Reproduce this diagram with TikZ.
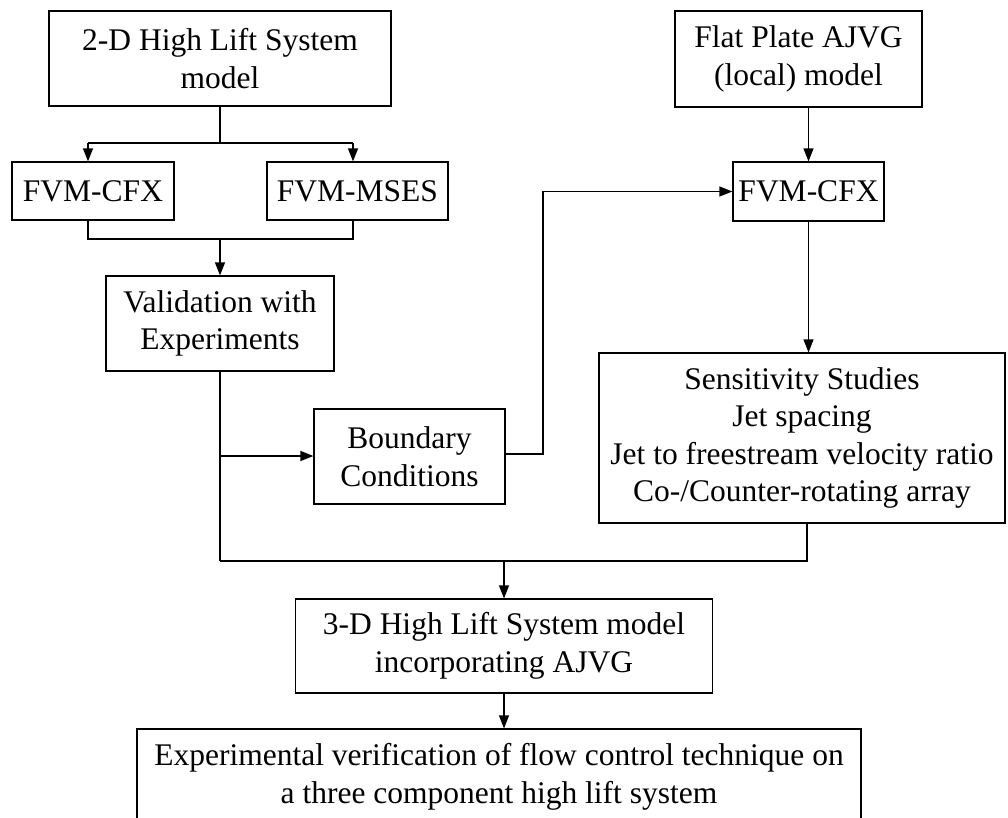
\documentclass[tikz,border=0pt]{standalone}
\usepackage{fontspec}
\setmainfont{Liberation Serif}
\usetikzlibrary{arrows.meta}
\begin{document}
\begin{tikzpicture}[x=1pt,y=-1pt,
  box/.style={draw, line width=1.2pt, inner sep=0pt, align=center,
    font=\fontsize{31.5}{37.5}\selectfont},
  link/.style={line width=1.2pt},
  arr/.style={link, -{Triangle[length=13pt,width=10pt]}}]
\useasboundingbox (0,0) rectangle (1008,817);
\clip (0,0) rectangle (1008,817);

% boxes
\node[box, minimum width=342pt, minimum height=95pt] (hl2d) at (220,58.5) {2-D High Lift System\\model};
\node[box, minimum width=247pt, minimum height=96pt] (flat) at (798.5,59) {Flat Plate AJVG\\(local) model};
\node[box, minimum width=162pt, minimum height=58pt] (cfxA) at (93,191) {FVM-CFX};
\node[box, minimum width=181pt, minimum height=58pt] (mses) at (357.5,191) {FVM-MSES};
\node[box, minimum width=228pt, minimum height=95pt] (valid) at (220,323.5) {Validation with\\Experiments};
\node[box, minimum width=151pt, minimum height=59pt] (cfxB) at (808.5,191.5) {FVM-CFX};
\node[box, minimum width=191pt, minimum height=95pt] (bc) at (409.5,456.5) {Boundary\\Conditions};
\node[box, minimum width=406pt, minimum height=170pt] (sens) at (802,438) {Sensitivity Studies\\Jet spacing\\Jet to freestream velocity ratio\\Co-/Counter-rotating array};
\node[box, minimum width=417pt, minimum height=94pt] (dd3) at (504,646) {3-D High Lift System model\\incorporating AJVG};
\node[box, minimum width=724pt, minimum height=96pt] (expv) at (499,777) {Experimental verification of flow control technique on\\a three component high lift system};

% routing points
\coordinate (fork) at (220,143);
\coordinate (forkL) at (88,143);
\coordinate (forkR) at (353,143);
\coordinate (join) at (220,239);
\coordinate (joinL) at (88,239);
\coordinate (joinR) at (353,239);
\coordinate (tap) at (220,456);
\coordinate (bcUp) at (543,454);
\coordinate (busL) at (220,561);
\coordinate (busR) at (807,561);
\coordinate (busM) at (504,561);

% 2-D model split to the two solvers
\draw[link] (hl2d.south) -- (fork);
\draw[link] (forkL) -- (forkR);
\draw[arr] (forkL) -- (forkL |- cfxA.north);
\draw[arr] (forkR) -- (forkR |- mses.north);

% solvers merge into validation
\draw[link] (joinL |- cfxA.south) -- (joinL) -- (joinR) -- (joinR |- mses.south);
\draw[arr] (join) -- (valid.north);

% local model chain
\draw[arr] (flat.south -| cfxB.north) -- (cfxB.north);
\draw[arr] (cfxB.south) -- (cfxB.south |- sens.north);

% validation to boundary conditions and the bus
\draw[link] (valid.south) -- (busL);
\draw[arr] (tap) -- (tap -| bc.west);
\draw[arr] (bc.east |- bcUp) -- (bcUp) -- (bcUp |- cfxB.west) -- (cfxB.west);

% sensitivity studies join the bus
\draw[link] (busR |- sens.south) -- (busR) -- (busL);

% 3-D model and verification
\draw[arr] (busM) -- (busM |- dd3.north);
\draw[arr] (dd3.south) -- (dd3.south |- expv.north);
\end{tikzpicture}
\end{document}
